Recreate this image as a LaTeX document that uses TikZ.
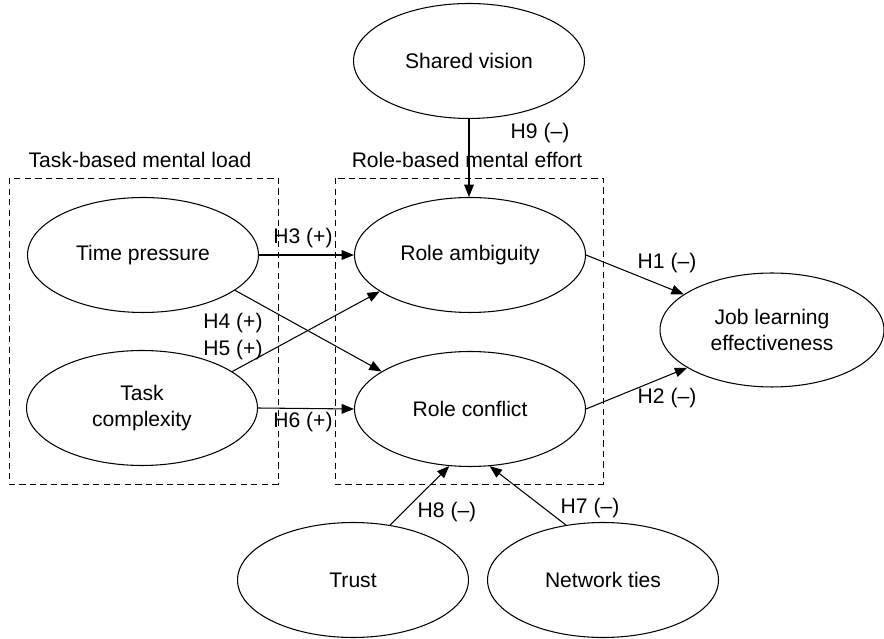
\documentclass[tikz,border=0pt]{standalone}
\usepackage{fontspec}
\setmainfont{Liberation Sans}
\usetikzlibrary{shapes.geometric,arrows.meta}

\tikzset{
  var/.style={draw, ellipse, inner sep=0pt, minimum width=4.62cm, minimum height=2.3cm, align=center},
  caixa/.style={draw, thin, dash pattern=on 3.6pt off 2.4pt},
  seta/.style={-{Triangle[length=7pt,width=5.5pt]}},
  hip/.style={inner sep=1pt}
}

\begin{document}
\begin{tikzpicture}[semithick,x=0.02cm,y=0.02cm,font=\fontsize{12}{14.4}\selectfont]
\useasboundingbox (0,0) rectangle (884,638);

% grupos
\draw[caixa] (9,460) rectangle (278,154);
\draw[caixa] (335,460) rectangle (603,154);
\node (lcarga) at (140,478) {Task-based mental load};
\node (lesforco) at (467,478) {Role-based mental effort};

% variáveis
\node[var] (sv) at (469,577) {Shared vision};
\node[var] (tp) at (143,383) {Time pressure};
\node[var] (tc) at (142,230) {Task\\complexity};
\node[var] (ra) at (470,383) {Role ambiguity};
\node[var] (rc) at (470,229) {Role conflict};
\node[var, minimum width=4.48cm, minimum height=2.28cm] (jle) at (772,308) {Job learning\\effectiveness};
\node[var] (tr) at (353,58) {Trust};
\node[var] (nt) at (603,58) {Network ties};

% hipóteses
\draw[seta] (sv.south) -- (sv.south |- ra.north);
\draw[seta] (tp.east) -- (ra.west);
\draw[seta] (tp.-21) -- (rc.157);
\draw[seta] (tc.22) -- (ra.202);
\draw[seta] (tc.east) -- (rc.west);
\draw[seta] (ra.east) -- (jle.158);
\draw[seta] (rc.east) -- (jle.204);
\draw[seta] (tr.56) -- (rc.250);
\draw[seta] (nt.124) -- (rc.289);

% rótulos
\node[hip] (h9) at (540,505) {H9 (–)};
\node[hip] (h3) at (303,400) {H3 (+)};
\node[hip] (h4) at (233,315) {H4 (+)};
\node[hip] (h5) at (233,288) {H5 (+)};
\node[hip] (h6) at (303,216) {H6 (+)};
\node[hip] (h1) at (667,375) {H1 (–)};
\node[hip] (h2) at (667,240) {H2 (–)};
\node[hip] (h8) at (447,126) {H8 (–)};
\node[hip] (h7) at (590,130) {H7 (–)};

\end{tikzpicture}
\end{document}
